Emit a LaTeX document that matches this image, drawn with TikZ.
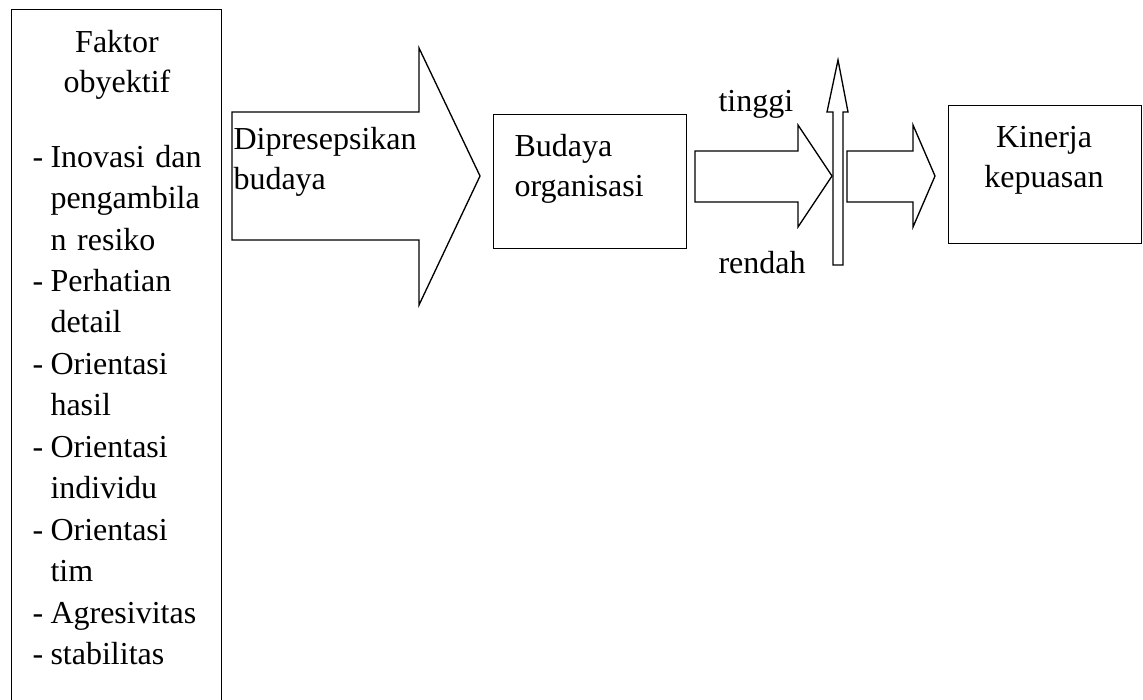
\documentclass[tikz,border=0pt]{standalone}
\usepackage{fontspec}
\setmainfont{Liberation Serif}
\usetikzlibrary{positioning}

\begin{document}
\begin{tikzpicture}[x=0.375pt,y=-0.375pt,
  kotak/.style={draw,line width=0.5pt,inner sep=0pt,anchor=north west},
  teks/.style={inner sep=0pt,font=\fontsize{12}{15}\selectfont},
  daftarteks/.style={teks,font=\fontsize{12}{15.56}\selectfont},
  panahblok/.style={draw,line width=0.5pt,line join=miter,fill=white}
]
  \useasboundingbox (0,0) rectangle (1143,699);
  \clip (0,0) rectangle (1143,699);
  % Faktor obyektif
  \node[kotak,minimum width=78.75pt,minimum height=270pt] (faktor) at (11,9) {};
  \node[teks,anchor=base,text width=60pt,align=center] (judul) at (117,52) {Faktor\\obyektif};
  \node[daftarteks,anchor=base west,text width=75pt,align=left] (daftar) at (32,167) {
    \makebox[6.75pt][l]{-}Inovasi dan\\
    \hspace*{6.75pt}pengambila\\
    \hspace*{6.75pt}n resiko\\
    \makebox[6.75pt][l]{-}Perhatian\\
    \hspace*{6.75pt}detail\\
    \makebox[6.75pt][l]{-}Orientasi\\
    \hspace*{6.75pt}hasil\\
    \makebox[6.75pt][l]{-}Orientasi\\
    \hspace*{6.75pt}individu\\
    \makebox[6.75pt][l]{-}Orientasi\\
    \hspace*{6.75pt}tim\\
    \makebox[6.75pt][l]{-}Agresivitas\\
    \makebox[6.75pt][l]{-}stabilitas};
  % Dipresepsikan budaya
  \draw[panahblok] (232,112) -- (419,112) -- (419,48) -- (480,176) -- (419,305)
    -- (419,240) -- (232,240) -- cycle;
  \node[teks,anchor=base west,text width=80pt,align=left] (persepsi) at (233,149.5) {Dipresepsikan\\budaya};
  % Budaya organisasi
  \node[kotak,minimum width=72.375pt,minimum height=50.25pt] (budaya) at (493,114) {};
  \node[teks,anchor=base west,text width=60pt,align=left] (budayateks) at (514,156.5) {Budaya\\organisasi};
  % tinggi / rendah
  \draw[panahblok] (695,151) -- (798,151) -- (798,125) -- (832,176) -- (798,227)
    -- (798,202) -- (695,202) -- cycle;
  \draw[panahblok] (833,265) -- (833,112) -- (827,112) -- (838,60) -- (848,112)
    -- (843,112) -- (843,265) -- cycle;
  \node[teks,anchor=base west] (tinggi) at (718,111.5) {tinggi};
  \node[teks,anchor=base west] (rendah) at (718,273) {rendah};
  \draw[panahblok] (847,151) -- (913,151) -- (913,125) -- (935,176) -- (913,227)
    -- (913,202) -- (847,202) -- cycle;
  % Kinerja kepuasan
  \node[kotak,minimum width=72.375pt,minimum height=51.75pt] (kinerja) at (948,105) {};
  \node[teks,anchor=base,text width=60pt,align=center] (kinerjateks) at (1044,147) {Kinerja\\kepuasan};
\end{tikzpicture}
\end{document}
